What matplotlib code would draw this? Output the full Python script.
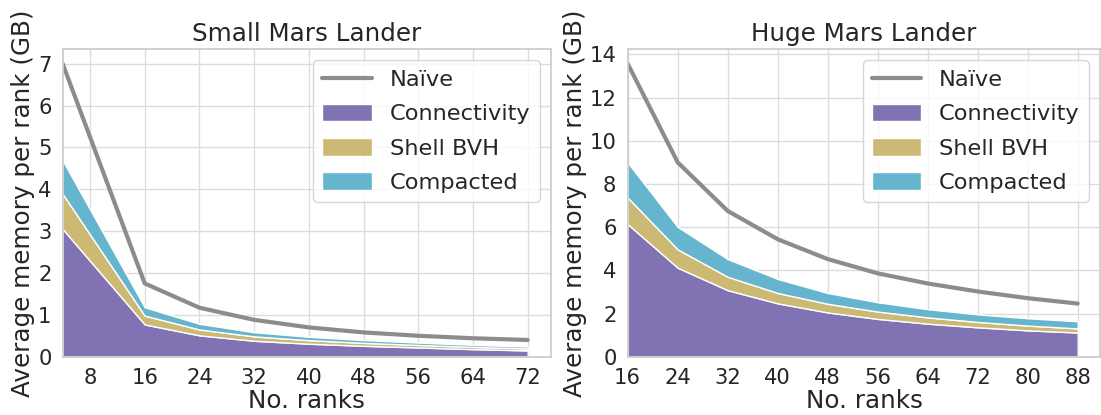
import matplotlib
matplotlib.use("Agg")
import matplotlib.pyplot as plt
from matplotlib.ticker import MultipleLocator
import seaborn as sns

# Small Mars Lander
ranks_small = [4, 16, 24, 32, 40, 48, 56, 64, 72]
naive_small = [7.0, 1.75, 1.17, 0.88, 0.70, 0.58, 0.50, 0.44, 0.40]
conn_small = [3.05, 0.77, 0.51, 0.38, 0.31, 0.26, 0.22, 0.18, 0.15]
shell_small = [0.84, 0.21, 0.14, 0.105, 0.085, 0.07, 0.06, 0.053, 0.047]
comp_small = [0.80, 0.20, 0.135, 0.10, 0.08, 0.067, 0.057, 0.05, 0.045]

# Huge Mars Lander
ranks_huge = [16, 24, 32, 40, 48, 56, 64, 72, 80, 88]
naive_huge = [13.57, 9.0, 6.75, 5.44, 4.52, 3.86, 3.39, 3.02, 2.71, 2.46]
conn_huge = [6.14, 4.12, 3.08, 2.47, 2.05, 1.75, 1.53, 1.36, 1.22, 1.12]
shell_huge = [1.23, 0.85, 0.62, 0.48, 0.40, 0.34, 0.29, 0.25, 0.22, 0.19]
comp_huge = [1.62, 1.04, 0.82, 0.65, 0.50, 0.43, 0.38, 0.35, 0.34, 0.33]

labels = ["Connectivity", "Shell BVH", "Compacted"]
stack_colors = ["#8172b3", "#ccb974", "#64b5cd"]
naive_color = "#8c8c8c"

sns.set_theme(style="whitegrid")
plt.rcParams["font.family"] = ["DejaVu Sans"]
plt.rcParams["grid.color"] = "#dcdcdc"

fig = plt.figure(figsize=(11.01, 4.15), dpi=100)
ax1 = fig.add_axes([0.0569, 0.1405, 0.4435, 0.7414])
ax2 = fig.add_axes([0.5701, 0.1405, 0.4292, 0.7414])

panels = [
    (ax1, "Small Mars Lander", ranks_small, naive_small,
     [conn_small, shell_small, comp_small], 1),
    (ax2, "Huge Mars Lander", ranks_huge, naive_huge,
     [conn_huge, shell_huge, comp_huge], 2),
]

for ax, title, x, naive, stacks, ystep in panels:
    ax.plot(x, naive, color=naive_color, lw=3, label="Na\u00efve")
    ax.stackplot(x, *stacks, labels=labels, colors=stack_colors,
                 edgecolor="white", linewidth=1)
    ax.set_xlim(left=x[0])
    ax.set_ylim(bottom=0)
    ax.xaxis.set_major_locator(MultipleLocator(8))
    ax.yaxis.set_major_locator(MultipleLocator(ystep))
    ax.set_title(title, fontsize=17.7, color=".15")
    ax.set_xlabel("No. ranks", fontsize=17.7, labelpad=1)
    ax.set_ylabel("Average memory per rank (GB)", fontsize=17.7, labelpad=2)
    ax.tick_params(labelsize=15.2, pad=2)
    ax.legend(loc="upper right", fontsize=16.2, handlelength=2.2,
              labelspacing=0.6, handleheight=0.85)

fig.savefig("out.png", dpi=100)
